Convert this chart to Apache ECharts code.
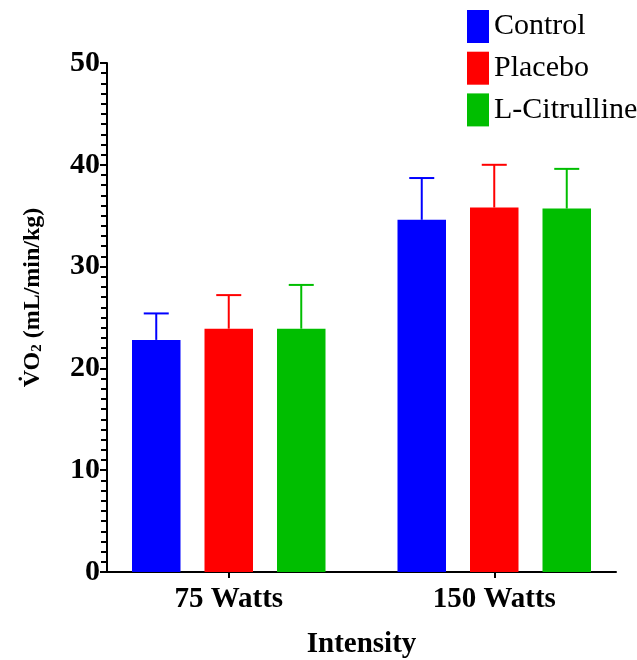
<!DOCTYPE html>
<html>
<head>
<meta charset="utf-8">
<script src="https://cdn.jsdelivr.net/npm/echarts@6/dist/echarts.min.js"></script>
<style>html,body{margin:0;padding:0;background:#fff;}#c{width:637px;height:660px;}</style>
</head>
<body>
<div id="c"></div>
<script>
var categories = ['75 Watts', '150 Watts'];
var seriesNames = ['Control', 'Placebo', 'L-Citrulline'];
var controlMean = [22.8, 34.6];
var placeboMean = [23.9, 35.8];
var citrullineMean = [23.9, 35.7];
var controlErr = [2.6, 4.1];
var placeboErr = [3.3, 4.2];
var citrullineErr = [4.3, 3.9];
var yTicks = [0, 10, 20, 30, 40, 50];

var colors = ['#0000FF', '#FF0000', '#00BE00'];
var means = [controlMean, placeboMean, citrullineMean];
var errs = [controlErr, placeboErr, citrullineErr];
var FONT = '"Liberation Serif", "Times New Roman", serif';
var BAR_W = 48.5, BAR_STEP = 72.5;

var series = [];
means.forEach(function (m, i) {
  series.push({
    name: seriesNames[i], type: 'bar', xAxisIndex: 0, yAxisIndex: 0,
    data: m, barWidth: BAR_W, barGap: ((BAR_STEP - BAR_W) / BAR_W * 100) + '%',
    itemStyle: { color: colors[i] }, z: 2
  });
});
means.forEach(function (m, i) {
  var d = m.map(function (v, k) { return [k, v, errs[i][k]]; });
  series.push({
    type: 'custom', xAxisIndex: 0, yAxisIndex: 0, z: 3, silent: true,
    data: d,
    renderItem: function (params, api) {
      var cat = api.value(0), mean = api.value(1), e = api.value(2);
      var base = api.coord([cat, mean]);
      var top = api.coord([cat, mean + e]);
      var x = base[0] + (i - 1) * BAR_STEP;
      var st = { stroke: colors[i], lineWidth: 2 };
      return { type: 'group', children: [
        { type: 'line', shape: { x1: x, y1: base[1], x2: x, y2: top[1] }, style: st },
        { type: 'line', shape: { x1: x - 12.5, y1: top[1], x2: x + 12.5, y2: top[1] }, style: st }
      ]};
    }
  });
});

var chart = echarts.init(document.getElementById('c'));
chart.setOption({
  animation: false,
  backgroundColor: '#fff',
  textStyle: { fontFamily: FONT },
  legend: {
    data: seriesNames, orient: 'vertical', left: 462, top: 5,
    itemWidth: 22, itemHeight: 33, itemGap: 8.7, icon: 'rect',
    textStyle: { fontFamily: FONT, fontSize: 30, color: '#000' }
  },
  grid: [
    { left: 96, right: 10, top: 63, bottom: 88, containLabel: false, outerBoundsMode: 'none' },
    { left: 107, right: 21, top: 63, bottom: 88, containLabel: false, outerBoundsMode: 'none' }
  ],
  xAxis: [
    { type: 'category', gridIndex: 0, data: categories,
      axisLine: { show: false },
      axisTick: { show: true, alignWithLabel: true, length: 6, lineStyle: { color: '#000', width: 2 } },
      axisLabel: { fontFamily: FONT, fontWeight: 'bold', fontSize: 29, color: '#000', margin: 13 },
      name: 'Intensity', nameLocation: 'middle', nameGap: 58,
      nameTextStyle: { fontFamily: FONT, fontWeight: 'bold', fontSize: 29, color: '#000' }
    },
    { type: 'category', gridIndex: 1, data: categories,
      axisLine: { show: true, lineStyle: { color: '#000', width: 2 } },
      axisTick: { show: false }, axisLabel: { show: false }
    }
  ],
  yAxis: [
    { type: 'value', gridIndex: 0, min: 0, max: 50, interval: 10, show: false },
    { type: 'value', gridIndex: 1, min: yTicks[0], max: yTicks[yTicks.length - 1], interval: 10,
      axisLine: { show: true, lineStyle: { color: '#000', width: 2 } },
      axisTick: { show: true, length: 7, lineStyle: { color: '#000', width: 2 } },
      minorTick: { show: true, splitNumber: 10, length: 6, lineStyle: { color: '#000', width: 2 } },
      splitLine: { show: false },
      axisLabel: { fontFamily: FONT, fontWeight: 'bold', fontSize: 30, color: '#000', margin: 7 },
      name: '{v|V\u0307O}{sub|2}{v| (mL/min/kg)}', nameLocation: 'middle', nameGap: 62, nameRotate: 90,
      nameTextStyle: {
        color: '#000', padding: [0, 0, 0, 40],
        rich: {
          v: { fontFamily: FONT, fontWeight: 'bold', fontSize: 24, color: '#000', lineHeight: 28, verticalAlign: 'bottom' },
          sub: { fontFamily: FONT, fontWeight: 'bold', fontSize: 15, color: '#000', lineHeight: 14, verticalAlign: 'bottom' }
        }
      }
    }
  ],
  series: series
});
</script>
</body>
</html>
